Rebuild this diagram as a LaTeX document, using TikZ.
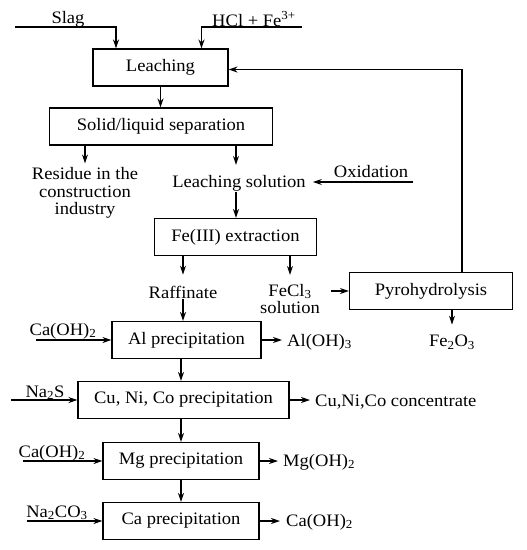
\documentclass[tikz,border=0pt]{standalone}
\usepackage{fontspec}
\setmainfont{Liberation Serif}[FakeStretch=1.06]
\usetikzlibrary{arrows.meta}
\tikzset{box/.style={draw,line width=1.1pt,minimum height=37pt,inner sep=0pt},
 flow/.style={-{Stealth[length=9pt,width=6pt,inset=3pt]},line width=1.1pt},
 lbl/.style={inner sep=1pt,align=center}}

\begin{document}
\begin{tikzpicture}[x=1pt,y=-1pt,font=\fontsize{17.5}{17.5}\selectfont]
\useasboundingbox (0,0) rectangle (527,550);
% main line
\node[box,minimum width=135pt] (leach) at (160.5,67.5) {Leaching};
\node[box,minimum width=223pt] (sls) at (161,126.5) {Solid/liquid separation};
\node[box,minimum width=162pt] (feext) at (235.5,237) {Fe(III) extraction};
\node[box,minimum width=163pt] (pyro) at (431,291) {Pyrohydrolysis};
\node[box,minimum width=149pt] (alp) at (186.5,340) {Al precipitation};
\node[box,minimum width=211pt] (cup) at (183.5,400) {Cu, Ni, Co precipitation};
\node[box,minimum width=156pt] (mgp) at (181,461) {Mg precipitation};
\node[box,minimum width=156pt] (cap) at (181,521) {Ca precipitation};
% feeds and products
\node[lbl] (slag) at (68,19) {Slag};
\node[lbl] (hcl) at (254,19) {HCl + Fe\textsuperscript{3+}};
\coordinate (slagin) at (15,27);
\coordinate (hclin) at (302,27);
\node[lbl] (res) at (85,193) {Residue in the\\construction\\industry};
\node[lbl] (lsol) at (239,183) {Leaching solution};
\node[lbl] (oxi) at (371,172) {Oxidation};
\coordinate (oxin) at (413,182);
\node[lbl] (raff) at (183,292) {Raffinate};
\node[lbl] (fecl) at (290,299) {FeCl\textsubscript{3}\\solution};
\node[lbl] (fe2o3) at (452,342) {Fe\textsubscript{2}O\textsubscript{3}};
\node[lbl,anchor=base] (caoha) at (63,335) {Ca(OH)\textsubscript{2}};
\node[lbl,anchor=base] (nas) at (45,397) {Na\textsubscript{2}S};
\node[lbl,anchor=base] (caohb) at (52,457) {Ca(OH)\textsubscript{2}};
\node[lbl,anchor=base] (naco) at (57,517) {Na\textsubscript{2}CO\textsubscript{3}};
\coordinate (caohain) at (36,340);
\coordinate (nasin) at (11,400);
\coordinate (caohbin) at (23,461);
\coordinate (nacoin) at (27,521);
\node[lbl,anchor=west] (aloh) at (286,342) {Al(OH)\textsubscript{3}};
\node[lbl,anchor=west] (cuconc) at (314,402) {Cu,Ni,Co concentrate};
\node[lbl,anchor=west] (mgoh) at (282,462) {Mg(OH)\textsubscript{2}};
\node[lbl,anchor=west] (caohc) at (285,522) {Ca(OH)\textsubscript{2}};
% arrows
\draw[flow] (slagin) -| ([xshift=-44.5pt]leach.north);
\draw[flow] (hclin) -| ([xshift=41pt]leach.north);
\draw[flow] (leach.south) -- (leach.south |- sls.north);
\draw[flow,shorten >=3pt] (sls.south -| res.north) -- (res.north);
\draw[flow,shorten >=9pt] ([xshift=-3pt]sls.south -| lsol.north) -- ([xshift=-3pt]lsol.north);
\draw[flow,shorten >=6pt] (oxin) -- (oxin -| lsol.east);
\draw[flow] ([xshift=-3pt]lsol.south) -- ([xshift=-3pt]lsol.south |- feext.north);
\draw[flow,shorten >=10pt] (feext.south -| raff.north) -- (raff.north);
\draw[flow,shorten >=8pt] (feext.south -| fecl.north) -- (fecl.north);
\draw[flow] ([xshift=10pt]fecl.east |- pyro.west) -- (pyro.west);
\draw[flow,shorten >=9pt] ([xshift=21pt]pyro.south) -- ([xshift=21pt]pyro.south |- fe2o3.north);
\draw[flow] ([xshift=31pt]pyro.north) |- ([yshift=-2pt]leach.east);
\draw[flow] (raff.south) -- (raff.south |- alp.north);
\draw[flow] (alp.south -| cap.north) -- (cup.north -| cap.north);
\draw[flow] (cup.south -| cap.north) -- (mgp.north);
\draw[flow] (mgp.south) -- (cap.north);
\draw[flow] (caohain) -- (caohain -| alp.west);
\draw[flow] (nasin) -- (nasin -| cup.west);
\draw[flow] (caohbin) -- (caohbin -| mgp.west);
\draw[flow] (nacoin) -- (nacoin -| cap.west);
\draw[flow,shorten >=4pt] (alp.east) -- (alp.east -| aloh.west);
\draw[flow,shorten >=4pt] (cup.east) -- (cup.east -| cuconc.west);
\draw[flow,shorten >=4pt] (mgp.east) -- (mgp.east -| mgoh.west);
\draw[flow,shorten >=5pt] (cap.east) -- (cap.east -| caohc.west);
\end{tikzpicture}
\end{document}
